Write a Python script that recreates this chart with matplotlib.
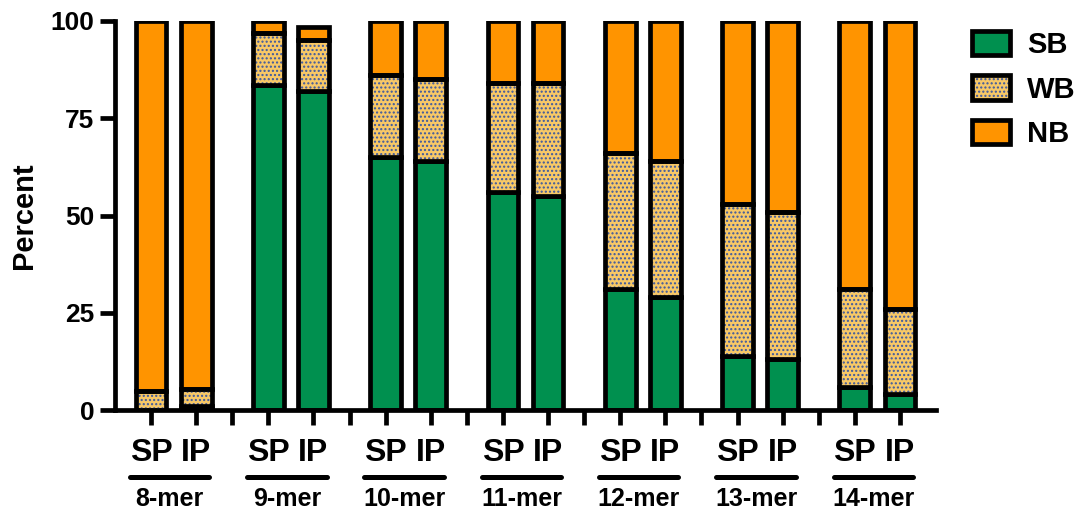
import matplotlib
matplotlib.use("Agg")
import matplotlib.pyplot as plt
from matplotlib.patches import Patch
from matplotlib.lines import Line2D
import matplotlib.transforms as mtransforms
import numpy as np

# Peptide length groups and the two conditions within each group
groups = ["8-mer", "9-mer", "10-mer", "11-mer", "12-mer", "13-mer", "14-mer"]
conditions = ["SP", "IP"]

# Percent of peptides per binding class, SP then IP for each group
sb_sp = [0, 83.5, 65, 56, 31, 14, 6]
sb_ip = [1, 82, 64, 55, 29, 13, 4]
wb_sp = [5, 13.5, 21, 28, 35, 39, 25]
wb_ip = [4.5, 13, 21, 29, 35, 38, 22]
nb_sp = [95, 3, 14, 16, 34, 47, 69]
nb_ip = [94.5, 3.5, 15, 16, 36, 49, 74]

series_labels = ["SB", "WB", "NB"]
green = "#00904F"
dotted_fill = "#F8C866"
dot_color = "#3C58A0"
orange = "#FF9400"

plt.rcParams["font.family"] = ["Liberation Sans", "DejaVu Sans"]
plt.rcParams["font.weight"] = "bold"
plt.rcParams["hatch.linewidth"] = 1.0

fig = plt.figure(figsize=(10.76, 5.16), dpi=100)
ax = fig.add_axes([115 / 1076, 1 - 410 / 516, (936 - 115) / 1076, 389 / 516])

group_step = 2.6
sp_x = np.arange(len(groups)) * group_step
ip_x = sp_x + 1
width = 0.68
lw = 3.4

def stacked(x, sb, wb, nb):
    sb = np.asarray(sb, float)
    wb = np.asarray(wb, float)
    nb = np.asarray(nb, float)
    ax.bar(x, sb, width, color=green, edgecolor="black", linewidth=lw, zorder=2)
    ax.bar(x, wb, width, bottom=sb, color=dotted_fill, edgecolor="none", linewidth=0, zorder=2)
    ax.bar(x, wb, width, bottom=sb, color="none", edgecolor=dot_color, hatch="....", linewidth=0, zorder=3)
    ax.bar(x, wb, width, bottom=sb, color="none", edgecolor="black", linewidth=lw, zorder=4)
    ax.bar(x, nb, width, bottom=sb + wb, color=orange, edgecolor="black", linewidth=lw, zorder=2)

stacked(sp_x, sb_sp, wb_sp, nb_sp)
stacked(ip_x, sb_ip, wb_ip, nb_ip)

ax.set_ylim(0, 100)
ax.set_xlim(-0.8, ip_x[-1] + 0.8)
ax.set_yticks([0, 25, 50, 75, 100])
ax.set_ylabel("Percent", fontsize=21, fontweight="bold", labelpad=9)

ticks = np.sort(np.concatenate([sp_x, ip_x]))
ax.set_xticks(ticks)
ax.set_xticklabels(conditions * len(groups), fontsize=23, fontweight="bold")
ax.set_xticks((ip_x[:-1] + sp_x[1:]) / 2, minor=True)

for side in ["top", "right"]:
    ax.spines[side].set_visible(False)
for side in ["left", "bottom"]:
    ax.spines[side].set_linewidth(lw)
ax.tick_params(axis="y", which="major", length=11, width=lw, labelsize=19, pad=4)
ax.tick_params(axis="x", which="both", length=11, width=lw, pad=9)

trans = mtransforms.blended_transform_factory(ax.transData, ax.transAxes)
for name, xs, xi in zip(groups, sp_x, ip_x):
    x0, x1 = xs - 0.47, xi + 0.29
    ax.add_line(Line2D([x0, x1], [-0.171, -0.171], transform=trans, color="black",
                       linewidth=3.6, solid_capstyle="round", clip_on=False))
    ax.text((x0 + x1) / 2, -0.228, name, transform=trans, ha="center", va="center",
            fontsize=18, fontweight="bold")

handles = [
    Patch(facecolor=green, edgecolor="black", linewidth=lw),
    (Patch(facecolor=dotted_fill, edgecolor=dot_color, hatch="....", linewidth=0),
     Patch(facecolor="none", edgecolor="black", linewidth=lw)),
    Patch(facecolor=orange, edgecolor="black", linewidth=lw),
]
fig.legend(handles, series_labels, loc="upper left", bbox_to_anchor=(972 / 1076, 1 - 31 / 516),
           frameon=False, borderpad=0, borderaxespad=0, handlelength=1.3, handleheight=0.9,
           handletextpad=0.6, labelspacing=0.56, prop={"size": 21, "weight": "bold"})

fig.savefig("out.png", dpi=100)
